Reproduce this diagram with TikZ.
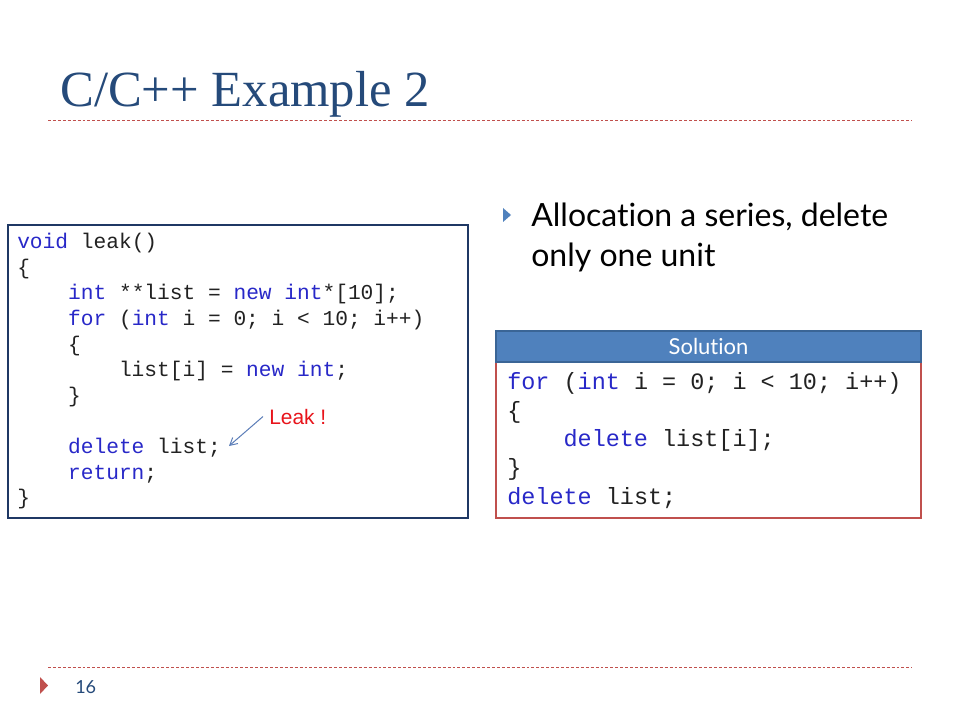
\documentclass[tikz,border=0pt]{standalone}
\usepackage{fontspec}
\setmainfont{Lato}[Ligatures={NoCommon}]
\setmonofont{Liberation Mono}
\newfontfamily\titlefont{Liberation Serif}
\newfontfamily\notefont{Liberation Sans}
\usetikzlibrary{shapes}
\usetikzlibrary{arrows.meta}

\definecolor{titleblue}{HTML}{254A7A}
\definecolor{accentred}{HTML}{C0504D}
\definecolor{headblue}{HTML}{4F81BD}
\definecolor{headedge}{HTML}{3A6596}
\definecolor{boxnavy}{HTML}{1F3864}
\definecolor{kwblue}{RGB}{40,40,200}
\definecolor{codegray}{HTML}{222222}
\definecolor{leakred}{HTML}{E8141B}
\definecolor{arrowblue}{HTML}{5B7DB8}

\newcommand{\px}{0.75pt}
\newcommand{\kw}[1]{\textcolor{kwblue}{#1}}
\newcommand{\codeind}{\hspace*{2.4em}}
\newcommand{\leakfont}{\ttfamily\fontsize{15.9}{19.2}\selectfont}
\newcommand{\solfont}{\ttfamily\fontsize{17.6}{21.6}\selectfont}

\begin{document}
\begin{tikzpicture}[x=0.75pt,y=-0.75pt,
	rule/.style={accentred,line width=0.75pt,dash pattern=on 2.2pt off 1.5pt},
	code/.style={align=left,inner sep=0pt,text=codegray,anchor=north west},
	codebox/.style={draw=boxnavy,line width=0.9pt,fill=white},
	note/.style={inner sep=6*\px,text=leakred,anchor=base west,font=\notefont\fontsize{15.7}{18}\selectfont},
	leakarrow/.style={-{Straight Barb[length=5.5pt,width=6pt]},draw=arrowblue,line width=0.75pt}]
		\fill[white] (0,0) rectangle (960,720);
		\useasboundingbox (0,0) rectangle (960,720);
		% title and rules
		\node[anchor=base west,inner sep=0pt,text=titleblue,font=\titlefont\fontsize{38}{45}\selectfont] (title) at (60,107) {C/C++ Example 2};
		\draw[rule] (48,121) -- (912,121);
		\draw[rule] (48,667) -- (912,667);
		% footer
		\fill[accentred] (40,677) -- (48,685.5) -- (40,694) -- cycle;
		\node[anchor=base west,inner sep=0pt,text=titleblue,font=\fontsize{13.5}{16}\selectfont] (page) at (75,693) {16};
		% left code box
		\node[codebox,minimum width=460*\px,minimum height=293*\px] (leakbox) at (238,371.5) {};
		\node[code,font=\leakfont] (leakcode) at (17,233) {\kw{void} leak()\\
			\{\\
			\codeind\kw{int} **list = \kw{new} \kw{int}*[10];\\
			\codeind\kw{for} (\kw{int} i = 0; i < 10; i++)\\
			\codeind\{\\
			\codeind\codeind list[i] = \kw{new} \kw{int};\\
			\codeind\}\\
			\mbox{}\\
			\codeind\kw{delete} list;\\
			\codeind\kw{return};\\
			\}};
		\node[note] (leak) at (263,424) {Leak !};
		\coordinate (leakend) at (229,446);
		\draw[leakarrow] (leak.west) -- (leakend);
		% bullet
		\fill[headblue] (503,208) -- (511,215) -- (503,222) -- cycle;
		\node[anchor=base west,align=left,inner sep=0pt,font=\fontsize{24}{30}\selectfont] (point) at (531,267) {Allocation a series, delete\\only one unit};
		% solution box
		\node[draw=accentred,line width=1.1pt,minimum width=425*\px,minimum height=156*\px] (solbody) at (708.5,440) {};
		\node[draw=headedge,fill=headblue,line width=0.9pt,text=white,minimum width=425*\px,minimum height=31*\px,font=\fontsize{16.5}{20}\selectfont] (solhead) at (708.5,346.5) {Solution};
		\node[code,font=\solfont] (solcode) at (507,372) {\kw{for} (\kw{int} i = 0; i < 10; i++)\\
			\{\\
			\codeind\kw{delete} list[i];\\
			\}\\
			\kw{delete} list;};
\end{tikzpicture}
\end{document}
